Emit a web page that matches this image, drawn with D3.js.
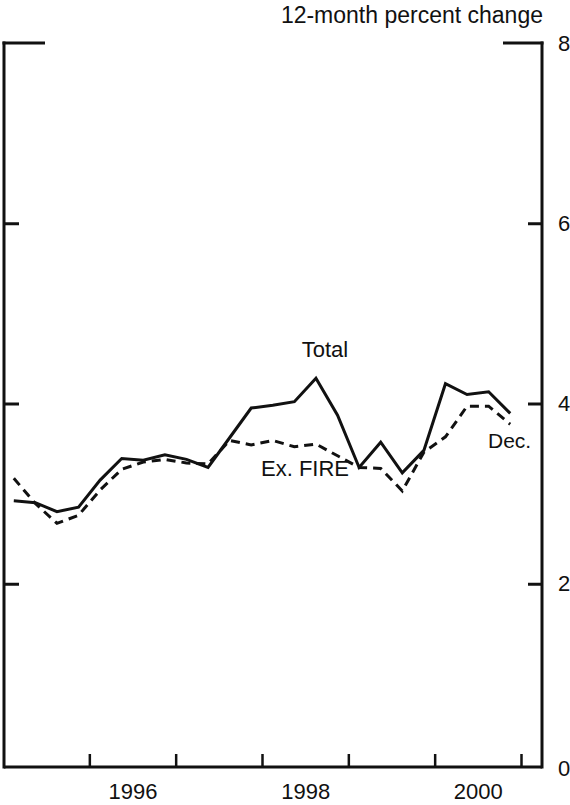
<!DOCTYPE html>
<html>
<head>
<meta charset="utf-8">
<script src="https://cdn.jsdelivr.net/npm/d3@7"></script>
<style>
  html, body { margin: 0; padding: 0; background: #fff; }
  svg { display: block; }
  text { font-family: "Liberation Sans", Arial, Helvetica, sans-serif; fill: #111; }
</style>
</head>
<body>
<svg id="chart" width="570" height="805"></svg>
<script>
// ---- data (quarterly, 12-month percent change) ----
const quarters = [
  "1995Q1","1995Q2","1995Q3","1995Q4",
  "1996Q1","1996Q2","1996Q3","1996Q4",
  "1997Q1","1997Q2","1997Q3","1997Q4",
  "1998Q1","1998Q2","1998Q3","1998Q4",
  "1999Q1","1999Q2","1999Q3","1999Q4",
  "2000Q1","2000Q2","2000Q3","2000Q4"
];
const total = [
  2.92, 2.90, 2.80, 2.85,
  3.15, 3.39, 3.37, 3.43,
  3.38, 3.29, 3.62, 3.95,
  3.98, 4.02, 4.28, 3.87,
  3.29, 3.57, 3.23, 3.48,
  4.22, 4.10, 4.13, 3.89
];
const exFire = [
  3.17, 2.89, 2.67, 2.76,
  3.04, 3.27, 3.35, 3.38,
  3.34, 3.33, 3.59, 3.54,
  3.59, 3.52, 3.55, 3.42,
  3.29, 3.28, 3.03, 3.46,
  3.63, 3.97, 3.97, 3.77
];
const yTicks = [0, 2, 4, 6, 8];
const yearTicks = [1996, 1997, 1998, 1999, 2000, 2001];
const yearLabels = [1996, 1998, 2000];

// ---- layout ----
const svg = d3.select("#chart");
const fLeft = 4, fRight = 542, fTop = 43, fBottom = 767;

const x = d3.scaleLinear().domain([1995, 2001]).range([3, 521]);
const y = d3.scaleLinear().domain([0, 8]).range([764, fTop]);

const tOf = q => +q.slice(0, 4) + (+q.slice(5) - 0.5) / 4;

const stroke = "#111";

// frame
const frame = svg.append("g").attr("stroke", stroke).attr("stroke-width", 3).attr("fill", "none");
frame.append("line").attr("x1", fLeft).attr("x2", fLeft).attr("y1", fTop - 1.5).attr("y2", fBottom + 1.5);
frame.append("line").attr("x1", fRight).attr("x2", fRight).attr("y1", fTop - 1.5).attr("y2", fBottom + 1.5);
frame.append("line").attr("x1", fLeft).attr("x2", fRight).attr("y1", fBottom).attr("y2", fBottom);
// top ticks at 8
frame.append("line").attr("x1", fLeft - 1.5).attr("x2", fLeft + 41).attr("y1", y(8)).attr("y2", y(8));
frame.append("line").attr("x1", fRight - 39).attr("x2", fRight + 1.5).attr("y1", y(8)).attr("y2", y(8));

// left axis (inward ticks, no labels)
const gl = svg.append("g").attr("transform", `translate(${fLeft},0)`)
  .call(d3.axisLeft(y).tickValues([2, 4, 6]).tickSizeInner(-15).tickSizeOuter(0).tickFormat(""));
gl.select(".domain").remove();
gl.selectAll(".tick line").attr("stroke", stroke).attr("stroke-width", 3);

// right axis (inward ticks, labels outside)
const gr = svg.append("g").attr("transform", `translate(${fRight},0)`)
  .call(d3.axisRight(y).tickValues(yTicks).tickSizeInner(-14).tickSizeOuter(0).tickPadding(16).tickFormat(d3.format("d")));
gr.select(".domain").remove();
gr.selectAll(".tick line").attr("stroke", stroke).attr("stroke-width", 3)
  .filter(d => d === 0 || d === 8).remove();
gr.selectAll(".tick text").attr("font-size", 22).attr("font-family", "Liberation Sans, Arial, sans-serif").attr("fill", "#111");
gr.selectAll(".tick").filter(d => d === 0).attr("transform", `translate(0,${fBottom + 2})`);

// bottom axis year boundary ticks
const gb = svg.append("g").attr("transform", `translate(0,${fBottom})`)
  .call(d3.axisBottom(x).tickValues(yearTicks).tickSizeInner(-13).tickSizeOuter(0).tickFormat(""));
gb.select(".domain").remove();
gb.selectAll(".tick line").attr("stroke", stroke).attr("stroke-width", 2.5);

// year labels at mid-year
const gy = svg.append("g").attr("transform", `translate(0,${fBottom})`)
  .call(d3.axisBottom(x).tickValues(yearLabels.map(v => v + 0.5)).tickSize(0).tickPadding(16)
    .tickFormat(d => String(Math.floor(d))));
gy.select(".domain").remove();
gy.selectAll(".tick text").attr("font-size", 22).attr("font-family", "Liberation Sans, Arial, sans-serif").attr("fill", "#111");

// lines
const line = d3.line().x((d, i) => x(tOf(quarters[i]))).y(d => y(d));
svg.append("path").datum(total).attr("d", line)
  .attr("fill", "none").attr("stroke", stroke).attr("stroke-width", 3).attr("stroke-linejoin", "miter");
svg.append("path").datum(exFire).attr("d", line)
  .attr("fill", "none").attr("stroke", stroke).attr("stroke-width", 3)
  .attr("stroke-dasharray", "9,6");

// annotations
svg.append("text").attr("x", 543).attr("y", 23).attr("text-anchor", "end").attr("font-size", 23)
  .text("12-month percent change");
svg.append("text").attr("x", 325).attr("y", 357).attr("text-anchor", "middle").attr("font-size", 22).text("Total");
svg.append("text").attr("x", 305).attr("y", 476).attr("text-anchor", "middle").attr("font-size", 22).text("Ex. FIRE");
svg.append("text").attr("x", 488).attr("y", 448).attr("font-size", 21).text("Dec.");
</script>
</body>
</html>
